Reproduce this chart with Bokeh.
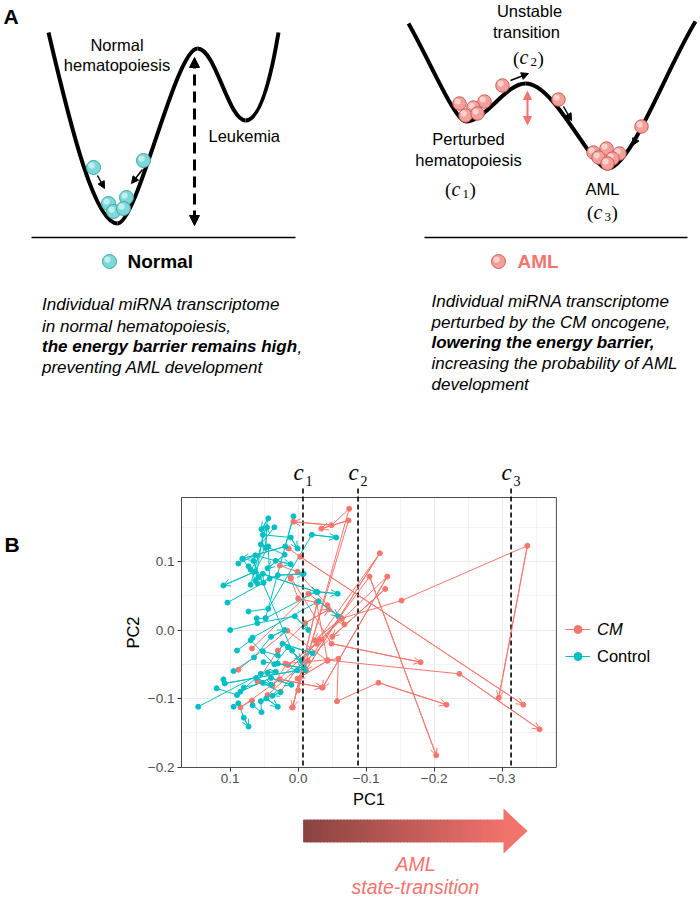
import numpy as np
from bokeh.plotting import figure
from bokeh.models import (ColumnDataSource, Range1d, Arrow, OpenHead, NormalHead,
                          Legend, LegendItem, FixedTicker, CustomJSTickFormatter)
from bokeh.core.properties import value
from bokeh.embed import file_html
from bokeh.resources import INLINE

SANS = "Liberation Sans"
SERIF = "Liberation Serif"
CM_COL = "#F8766D"
CTRL_COL = "#00BFC4"
SALMON = "#F4736E"

# ====================== Panel B data (PC1 / PC2 trajectories) ======================
cm_traj_x = [
    [-0.027, -0.064, -0.152, -0.337, -0.295],
    [-0.014, -0.105, -0.203],
    [0.011, -0.049, -0.180],
    [-0.027, -0.043, -0.237, -0.355],
    [0.014, -0.003, -0.331],
    [0.019, -0.059, -0.057, -0.118, -0.218],
    [0.000, -0.075, -0.049, 0.007],
    [0.009, -0.074, -0.034],
    [0.026, -0.120, -0.011],
    [0.038, -0.131, -0.036],
    [0.068, -0.015, -0.064, -0.024],
    [0.088, 0.016, -0.043, 0.001],
    [0.068, 0.085, 0.027, -0.035],
    [0.027, 0.001, -0.043, -0.068],
    [0.011, 0.000, -0.028, 0.008],
    [0.038, 0.017, 0.015, -0.034],
    [0.045, -0.128, -0.050],
    [0.060, 0.030, -0.010, -0.045],
]
cm_traj_y = [
    [-0.020, 0.017, 0.043, 0.123, -0.099],
    [-0.045, 0.078, -0.183],
    [0.077, -0.020, -0.047],
    [0.040, -0.044, -0.064, -0.145],
    [0.119, 0.107, -0.109],
    [-0.049, -0.042, -0.104, -0.077, -0.109],
    [-0.088, 0.177, 0.153, 0.158],
    [-0.113, 0.160, 0.148],
    [-0.090, 0.112, -0.059],
    [-0.081, 0.078, -0.084],
    [-0.027, 0.053, 0.017, -0.015],
    [-0.058, -0.001, -0.045, -0.071],
    [-0.103, -0.113, -0.072, -0.084],
    [0.094, 0.085, 0.036, 0.008],
    [0.075, 0.046, 0.040, -0.113],
    [-0.081, -0.050, -0.051, -0.014],
    [-0.095, 0.060, -0.010],
    [-0.075, -0.030, 0.010, 0.030],
]
ctrl_traj_x = [
    [0.070, 0.044, 0.054],
    [0.048, 0.007, 0.019, 0.082],
    [0.042, 0.044, 0.064, 0.110],
    [0.063, 0.052, 0.011, 0.001],
    [0.088, 0.063, 0.033, 0.011],
    [0.073, 0.060, 0.030, -0.008],
    [0.104, 0.051, 0.052, -0.028],
    [0.073, 0.044, -0.020, -0.056],
    [0.061, 0.048, -0.027, -0.058],
    [0.067, -0.030, -0.059],
    [0.052, 0.030, 0.023, -0.021],
    [0.051, 0.030, -0.009],
    [0.147, 0.055, 0.045, 0.033],
    [0.110, 0.108, 0.001],
    [0.080, 0.052, 0.026, 0.038],
    [0.095, 0.088, 0.080, 0.073],
    [0.067, 0.054, 0.055, 0.047, 0.030],
    [0.100, 0.060, 0.005, -0.015],
    [0.095, 0.065, 0.040, 0.020],
    [0.085, 0.040, 0.010],
    [0.058, 0.066, 0.009, -0.011],
    [0.082, 0.070, 0.048, 0.046],
    [0.120, 0.090, 0.062, 0.040],
    [0.035, 0.055, 0.020, 0.045],
    [0.090, 0.070, 0.035, 0.015, -0.005],
]
ctrl_traj_y = [
    [0.066, 0.163, 0.147],
    [0.017, 0.166, 0.122, 0.104],
    [0.075, 0.122, 0.085, 0.065],
    [0.072, 0.139, 0.135, 0.119],
    [0.097, 0.109, 0.101, 0.096],
    [0.093, 0.068, 0.080, 0.082],
    [0.040, 0.069, 0.082, 0.055],
    [0.027, 0.031, 0.139, 0.135],
    [0.017, 0.017, 0.056, 0.053],
    [-0.011, 0.042, 0.020],
    [-0.031, -0.037, -0.020, -0.034],
    [-0.047, -0.049, -0.056],
    [-0.112, -0.064, -0.062, -0.061],
    [-0.072, -0.078, -0.059],
    [-0.084, -0.077, -0.091, -0.096],
    [-0.112, -0.107, -0.128, -0.141],
    [-0.110, -0.120, -0.104, -0.100, -0.112],
    [0.000, 0.010, 0.020, 0.000],
    [-0.060, -0.040, -0.010, 0.000],
    [-0.090, -0.070, -0.080],
    [0.077, 0.101, -0.030, -0.059],
    [0.104, 0.088, 0.120, 0.150],
    [-0.085, -0.095, -0.070, -0.080],
    [0.150, 0.125, 0.110, 0.090],
    [-0.030, -0.015, -0.050, -0.025, -0.045],
]
group_labels = ["CM", "Control"]
c_names = ["1", "2", "3"]
c_pc1 = [-0.007, -0.088, -0.313]
x_ticks = [0.1, 0.0, -0.1, -0.2, -0.3]
x_minor = [0.15, 0.05, -0.05, -0.15, -0.25, -0.35]
y_ticks = [0.1, 0.0, -0.1, -0.2]
y_minor = [0.15, 0.05, -0.05, -0.15]
pc1_lim = (0.1716, -0.3797)    # panel extent (left, right)
pc2_lim = (-0.2007, 0.1934)    # panel extent (bottom, top)

# ====================== Panel A illustration (page-pixel coordinates) ======================
lc_x0 = [48, 117, 197, 245]; lc_y0 = [32, 223, 48, 120]
lc_x1 = [117, 197, 245, 278]; lc_y1 = [223, 48, 120, 32]
lc_cx0 = [72, 137, 215, 262]; lc_cy0 = [135, 223, 48, 120]
lc_cx1 = [95, 175, 228, 273]; lc_cy1 = [223, 48, 120, 62]
rc_x0 = [408, 465, 525, 607]; rc_y0 = [23, 121, 83, 168]
rc_x1 = [465, 525, 607, 695]; rc_y1 = [121, 83, 168, 21]
rc_cx0 = [430, 485, 555, 630]; rc_cy0 = [62, 121, 83, 168]
rc_cx1 = [455, 505, 590, 665]; rc_cy1 = [121, 83, 168, 70]
normal_ball_x = [93, 143, 108, 126, 113, 123]
normal_ball_y = [167, 160, 203, 197, 211, 208]
aml_ball_x = [459, 484, 473, 465, 477, 502, 558, 593, 619, 606, 598, 612, 607, 641]
aml_ball_y = [103, 101, 107, 115, 113, 85, 99, 152, 153, 148, 157, 158, 163, 126]
mv_x0 = [97, 142, 510, 563, 638]; mv_y0 = [175, 169, 80, 106, 134]
mv_x1 = [104, 131, 528, 571, 632]; mv_y1 = [188, 183, 73, 120, 145]

# ---------------------------------------------------------------------------------------
def flat(lst):
    return [v for sub in lst for v in sub]

W, H = 700, 898
# page-pixel position of PC1 = 0 / PC2 = 0 and pixels per unit (layout of panel B)
X0_PX, XSCALE = 297.7, 680.0
Y0_PX, YSCALE = 629.5, 685.0

def pc2_at(py):
    return (Y0_PX - py) / YSCALE

p = figure(width=W, height=H, title=None,
           x_range=Range1d(X0_PX / XSCALE, (X0_PX - W) / XSCALE),
           y_range=Range1d((Y0_PX - H) / YSCALE, Y0_PX / YSCALE),
           min_border=0, outline_line_color=None, output_backend="svg", toolbar_location=None)
p.extra_x_ranges = {"px": Range1d(0, W)}
p.extra_y_ranges = {"px": Range1d(H, 0)}
PX = dict(x_range_name="px", y_range_name="px")

# ---------------- axes of panel B (drawn at the panel edges) ----------------
xt = FixedTicker(ticks=x_ticks, minor_ticks=x_minor)
yt = FixedTicker(ticks=y_ticks, minor_ticks=y_minor)
for ax, tk, lab, loc, bnd in ((p.xaxis, xt, "PC1", pc2_lim[0], (pc1_lim[1], pc1_lim[0])),
                              (p.yaxis, yt, "PC2", pc1_lim[0], pc2_lim)):
    ax.ticker = tk
    ax.fixed_location = loc
    ax.bounds = bnd
    ax.formatter = CustomJSTickFormatter(code="return tick.toFixed(1).replace('-', '\u2212');")
    ax.axis_line_color = None
    ax.major_tick_line_color = "#333333"
    ax.major_tick_out = 4
    ax.major_tick_in = 0
    ax.minor_tick_line_color = None
    ax.major_label_text_font = SANS
    ax.major_label_text_font_size = "13.5px"
    ax.major_label_text_color = "#4D4D4D"
    ax.major_label_standoff = 3
    ax.axis_label = lab
    ax.axis_label_text_font = SANS
    ax.axis_label_text_font_size = "16.5px"
    ax.axis_label_text_font_style = "normal"
    ax.axis_label_text_color = "black"
    ax.axis_label_standoff = 3

p.xgrid.ticker = xt
p.ygrid.ticker = yt
p.xgrid.cross_bounds = pc2_lim
p.ygrid.cross_bounds = (pc1_lim[1], pc1_lim[0])
for g in (p.xgrid, p.ygrid):
    g.grid_line_color = "#EBEBEB"
    g.grid_line_width = 1.1
    g.minor_grid_line_color = "#EBEBEB"
    g.minor_grid_line_width = 0.6

# ---------------- panel B marks ----------------
cm_lines = p.multi_line(xs=cm_traj_x, ys=cm_traj_y, line_color=CM_COL, line_width=1)
ctrl_lines = p.multi_line(xs=ctrl_traj_x, ys=ctrl_traj_y, line_color=CTRL_COL, line_width=1)
cm_pts = p.scatter(x=flat(cm_traj_x), y=flat(cm_traj_y), size=5, fill_color=CM_COL, line_color=CM_COL)
ctrl_pts = p.scatter(x=flat(ctrl_traj_x), y=flat(ctrl_traj_y), size=5, fill_color=CTRL_COL, line_color=CTRL_COL)

def add_arrows(tx, ty, col):
    src = ColumnDataSource(dict(x0=[t[-2] for t in tx], y0=[t[-2] for t in ty],
                                x1=[t[-1] for t in tx], y1=[t[-1] for t in ty]))
    p.add_layout(Arrow(source=src, x_start="x0", y_start="y0", x_end="x1", y_end="y1",
                       line_color=col, line_width=1,
                       end=OpenHead(size=7, line_color=col, line_width=1)))

add_arrows(cm_traj_x, cm_traj_y, CM_COL)
add_arrows(ctrl_traj_x, ctrl_traj_y, CTRL_COL)

# panel border (theme_bw)
p.quad(left=[pc1_lim[0]], right=[pc1_lim[1]], bottom=[pc2_lim[0]], top=[pc2_lim[1]],
       fill_color=None, line_color="#4A4A4A", line_width=1)

# state boundaries c1, c2, c3
p.segment(x0=c_pc1, y0=[pc2_at(488)] * 3, x1=c_pc1, y1=[pc2_lim[0]] * 3,
          line_color="black", line_width=1.6, line_dash="5 3")
p.text(x=c_pc1, y=[pc2_at(472)] * 3, text=["c"] * 3, x_offset=-9.5,
       text_font=value(SERIF), text_font_style="italic", text_font_size="23px",
       text_baseline="middle", text_align="left")
p.text(x=c_pc1, y=[pc2_at(480)] * 3, text=c_names, x_offset=2.5,
       text_font=value(SERIF), text_font_size="14px", text_baseline="middle", text_align="left")

def mk_legend(item_label, rends, style, loc):
    return Legend(items=[LegendItem(label=value(item_label), renderers=rends)], location=loc,
                  label_text_font=SANS, label_text_font_size="16.5px", label_text_font_style=style,
                  label_text_color="black", glyph_width=25, glyph_height=20, label_height=20,
                  label_standoff=7, padding=0, margin=0, spacing=0,
                  border_line_color=None, background_fill_alpha=0)

p.add_layout(mk_legend(group_labels[0], [cm_lines, cm_pts], "italic", (565, 259)))
p.add_layout(mk_legend(group_labels[1], [ctrl_lines, ctrl_pts], "normal", (565, 232)))

# ====================== Panel A illustration ======================
p.bezier(x0=lc_x0, y0=lc_y0, x1=lc_x1, y1=lc_y1, cx0=lc_cx0, cy0=lc_cy0, cx1=lc_cx1, cy1=lc_cy1,
         line_color="black", line_width=4, **PX)
p.bezier(x0=rc_x0, y0=rc_y0, x1=rc_x1, y1=rc_y1, cx0=rc_cx0, cy0=rc_cy0, cx1=rc_cx1, cy1=rc_cy1,
         line_color="black", line_width=4, **PX)
p.segment(x0=[31, 424], y0=[237, 237], x1=[295, 687], y1=[237, 237],
          line_color="black", line_width=1.6, **PX)

def ball(x, y, size, fill, edge, hi):
    p.scatter([x], [y], size=size, fill_color=fill, line_color=edge, line_width=1, **PX)
    p.scatter([x - size * 0.14], [y - size * 0.14], size=size * 0.45, fill_color=hi,
              line_color=None, fill_alpha=0.75, **PX)

for x, y in zip(normal_ball_x, normal_ball_y):
    ball(x, y, 14, "#7FD8D8", "#3AA6A8", "#D6F6F5")
for x, y in zip(aml_ball_x, aml_ball_y):
    ball(x, y, 13.5, "#F3A09B", "#C95F5A", "#FDE1DF")
ball(109, 261, 14, "#7FD8D8", "#3AA6A8", "#D6F6F5")
ball(498, 261, 14, "#F3A09B", "#C95F5A", "#FDE1DF")

mv_src = ColumnDataSource(dict(x0=mv_x0, y0=mv_y0, x1=mv_x1, y1=mv_y1))
p.add_layout(Arrow(source=mv_src, x_start="x0", y_start="y0", x_end="x1", y_end="y1",
                   line_color="black", line_width=1.5,
                   end=NormalHead(size=7, fill_color="black", line_color="black"), **PX))
p.add_layout(Arrow(x_start=194, y_start=57, x_end=194, y_end=225, line_color="black",
                   line_width=3, line_dash="11 6",
                   start=NormalHead(size=10, fill_color="black", line_color="black"),
                   end=NormalHead(size=10, fill_color="black", line_color="black"), **PX))
p.add_layout(Arrow(x_start=527, y_start=91, x_end=527, y_end=124, line_color=SALMON,
                   line_width=2,
                   start=NormalHead(size=8, fill_color=SALMON, line_color=SALMON),
                   end=NormalHead(size=8, fill_color=SALMON, line_color=SALMON), **PX))

def txt(xs, ys, texts, size, style="normal", align="left", color="black", font=SANS):
    p.text(x=xs, y=ys, text=texts, text_font=value(font), text_font_size=size,
           text_font_style=style, text_align=align, text_baseline="middle",
           text_color=color, **PX)

txt([3], [16], ["A"], "21px", "bold")
txt([116.5, 116.5, 529, 526, 468, 468, 602],
    [44, 64, 10.5, 31, 138.5, 159.5, 188.5],
    ["Normal", "hematopoiesis", "Unstable", "transition", "Perturbed", "hematopoiesis", "AML"],
    "16.5px", align="center")
txt([208], [135.5], ["Leukemia"], "16.5px")

def math_lab(cx, mid, sub):
    txt([cx - 15.5], [mid], ["("], "19px", font=SERIF)
    txt([cx - 9], [mid - 1], ["c"], "20px", "italic", font=SERIF)
    txt([cx + 2], [mid + 4], [sub], "13px", font=SERIF)
    txt([cx + 9], [mid], [")"], "19px", font=SERIF)

math_lab(528, 57.5, "2")
math_lab(460, 189, "1")
math_lab(602, 212, "3")

txt([127], [261], ["Normal"], "19px", "bold")
txt([517], [261], ["AML"], "19px", "bold", color=SALMON)

txt([41.5, 41.5, 41.5], [304, 325.5, 366.5],
    ["Individual miRNA transcriptome", "in normal hematopoiesis,", "preventing AML development"],
    "17px", "italic")
txt([41.5], [346], ["the energy barrier remains high"], "17px", "bold italic")
txt([297], [346], [","], "17px", "italic")
txt([431, 431, 431, 431], [300.5, 321.5, 363, 384],
    ["Individual miRNA transcriptome", "perturbed by the CM oncogene,",
     "increasing the probability of AML", "development"], "17px", "italic")
txt([431], [342], ["lowering the energy barrier,"], "17px", "bold italic")

txt([4], [544], ["B"], "21px", "bold")

# ====================== state-transition arrow ======================
GRAD_DARK, GRAD_LIGHT = "#8A4341", "#EF726B"
n = 60
edges = np.linspace(303, 503, n + 1)
c0 = np.array([int(GRAD_DARK[i:i + 2], 16) for i in (1, 3, 5)], dtype=float)
c1 = np.array([int(GRAD_LIGHT[i:i + 2], 16) for i in (1, 3, 5)], dtype=float)
fr = (np.arange(n) + 0.5) / n
cols = ["#%02x%02x%02x" % tuple(int(round(v)) for v in c0 + (c1 - c0) * f) for f in fr]
p.quad(left=edges[:-1], right=edges[1:] + 1.0, top=819.5, bottom=841.5,
       fill_color=cols, line_color=cols, line_width=0.8, **PX)
p.patch([503, 527, 503], [808, 830.5, 853], fill_color="#F0736C", line_color=None, **PX)
txt([415], [863], ["AML"], "19.5px", "italic", align="center", color=SALMON)
txt([415], [886], ["state-transition"], "19.5px", "italic", align="center", color=SALMON)

open("out.html", "w").write(file_html(p, INLINE))
